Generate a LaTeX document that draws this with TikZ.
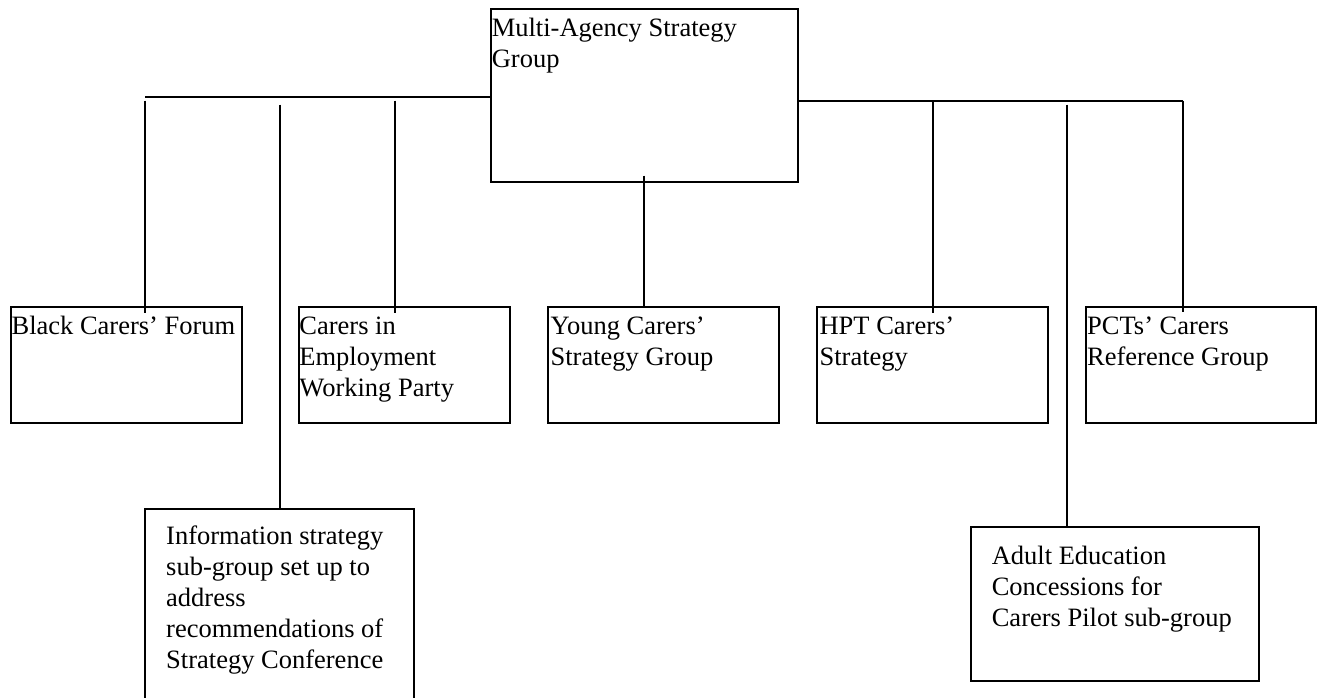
\documentclass[tikz,border=0pt]{standalone}
\usepackage{fontspec}
\setmainfont{Liberation Serif}
\begin{document}
\begin{tikzpicture}[x=1pt,y=-1pt,
  box/.style={draw=black,line width=2pt,rectangle,inner sep=0pt,outer sep=0pt,anchor=north west},
  lbl/.style={inner sep=0pt,outer sep=0pt,anchor=north west,align=left,font=\fontsize{26.5}{31}\selectfont},
  conn/.style={draw=black,line width=2pt}]
\useasboundingbox (0,0) rectangle (1320,697);
\clip (0,0) rectangle (1320,697);
\newcommand{\fstrut}{\rule{0pt}{20pt}}
% boxes
\node[box,minimum width=307.6pt,minimum height=172.7pt] (main) at (490.7,9.3) {};
\node[box,minimum width=230.9pt,minimum height=115.4pt] (black) at (10.7,307.3) {};
\node[box,minimum width=211.6pt,minimum height=115.4pt] (carers) at (298.5,307.3) {};
\node[box,minimum width=230.7pt,minimum height=115.4pt] (young) at (548.4,307.3) {};
\node[box,minimum width=230.6pt,minimum height=115.4pt] (hpt) at (817,307.3) {};
\node[box,minimum width=229.8pt,minimum height=115.4pt] (pct) at (1085.9,307.3) {};
\node[box,minimum width=269.2pt,minimum height=210pt] (info) at (145.1,509.3) {};
\node[box,minimum width=288.4pt,minimum height=154pt] (adult) at (970.9,527.3) {};
% texts
\node[lbl] (tmain) at (491.8,16) {\fstrut Multi-Agency Strategy\\Group};
\node[lbl] (tblack) at (11.6,314.3) {\fstrut Black Carers’ Forum};
\node[lbl] (tcarers) at (299.4,314.3) {\fstrut Carers in\\Employment\\Working Party};
\node[lbl] (tyoung) at (550.6,314.3) {\fstrut Young Carers’\\Strategy Group};
\node[lbl] (thpt) at (819.6,314.3) {\fstrut HPT Carers’\\Strategy};
\node[lbl] (tpct) at (1087.2,314.3) {\fstrut PCTs’ Carers\\Reference Group};
\node[lbl] (tinfo) at (166.2,524) {\fstrut Information strategy\\sub-group set up to\\address\\recommendations of\\Strategy Conference};
\node[lbl] (tadult) at (991.8,544.3) {\fstrut Adult Education\\Concessions for\\Carers Pilot sub-group};
% connector coordinates
\coordinate (lend) at (145,96.7);
\coordinate (rend) at (1182.7,100.7);
\coordinate (bT) at (145,100.7);
\coordinate (iT) at (279.6,104.7);
\coordinate (cT) at (394.7,100.7);
\coordinate (yT) at (644.3,175.7);
\coordinate (hT) at (932.7,100.7);
\coordinate (aT) at (1067,104.7);
\coordinate (pT) at (1182.7,100.7);
% bus lines
\draw[conn] (main.west |- lend) -- (lend);
\draw[conn] (main.east |- rend) -- (rend);
% drops
\draw[conn] (bT) -- ([yshift=-6pt]bT |- black.north);
\draw[conn] (iT) -- (iT |- info.north);
\draw[conn] (cT) -- ([yshift=-6pt]cT |- carers.north);
\draw[conn] (yT) -- (yT |- young.north);
\draw[conn] (hT) -- ([yshift=-6pt]hT |- hpt.north);
\draw[conn] (aT) -- (aT |- adult.north);
\draw[conn] (pT) -- ([yshift=-5pt]pT |- pct.north);
\end{tikzpicture}
\end{document}
